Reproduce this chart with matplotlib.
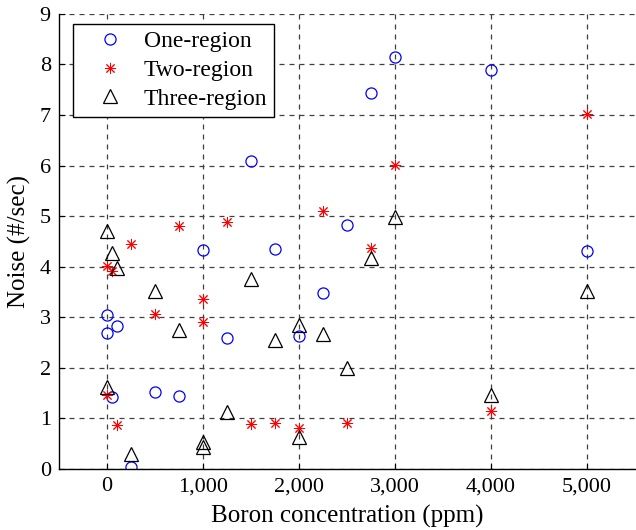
import matplotlib.pyplot as plt
from matplotlib.ticker import FuncFormatter

# One-region (blue circles)
one_x = [0, 0, 50, 100, 250, 500, 750, 1000, 1250, 1500, 1750, 2000, 2250, 2500, 2750, 3000, 4000, 5000]
one_y = [3.04, 2.69, 1.42, 2.82, 0.05, 1.53, 1.45, 4.33, 2.59, 6.09, 4.35, 2.64, 3.49, 4.83, 7.44, 8.15, 7.89, 4.32]

# Two-region (red asterisks)
two_x = [0, 0, 50, 100, 250, 500, 750, 1000, 1000, 1250, 1500, 1750, 2000, 2250, 2500, 2750, 3000, 4000, 5000]
two_y = [4.02, 1.47, 3.91, 0.87, 4.44, 3.06, 4.80, 3.36, 2.91, 4.89, 0.90, 0.92, 0.82, 5.10, 0.92, 4.36, 6.02, 1.15, 7.02]

# Three-region (black triangles)
three_x = [0, 0, 50, 100, 250, 500, 750, 1000, 1000, 1250, 1500, 1750, 2000, 2000, 2250, 2500, 2750, 3000, 4000, 5000]
three_y = [4.71, 1.63, 4.28, 3.97, 0.30, 3.52, 2.74, 0.53, 0.44, 1.12, 3.75, 2.55, 2.84, 0.63, 2.67, 1.99, 4.18, 4.98, 1.47, 3.52]

x_ticks = [0, 1000, 2000, 3000, 4000, 5000]
y_ticks = list(range(0, 10))

plt.rcParams['font.family'] = ['Liberation Serif', 'DejaVu Serif']

fig = plt.figure(figsize=(6.36, 5.3), dpi=100)
ax = fig.add_axes([0.093, 0.115, 0.905, 0.859])

ax.plot(one_x, one_y, linestyle='none', marker='o', markersize=8,
        markerfacecolor='none', markeredgecolor='#0000ff', markeredgewidth=0.9,
        label='One-region')
ax.plot(two_x, two_y, linestyle='none', marker=(8, 2, 0), markersize=8,
        color='#ff0000', markeredgewidth=0.7, label='Two-region')
ax.plot(three_x, three_y, linestyle='none', marker='^', markersize=10,
        markerfacecolor='none', markeredgecolor='k', markeredgewidth=0.9,
        label='Three-region')

ax.set_xlim(-500, 5500)
ax.set_ylim(0, 9)
ax.set_xticks(x_ticks)
ax.set_yticks(y_ticks)
ax.xaxis.set_major_formatter(FuncFormatter(lambda v, p: f'{int(v):,}'))
ax.tick_params(direction='in', length=4, labelsize=16, width=0.8, pad=6)

ax.spines['top'].set_visible(False)
ax.spines['right'].set_visible(False)
ax.spines['left'].set_linewidth(1.0)
ax.spines['bottom'].set_linewidth(1.0)

ax.grid(True, color='0.25', linestyle=(0, (4, 4)), linewidth=0.9)
ax.set_axisbelow(True)

ax.set_xlabel('Boron concentration (ppm)', fontsize=18, labelpad=6)
ax.set_ylabel('Noise (#/sec)', fontsize=18, labelpad=6)

leg = ax.legend(loc='upper left', bbox_to_anchor=(0.024, 0.978), borderaxespad=0,
                fontsize=17, fancybox=False, framealpha=1, edgecolor='k',
                handletextpad=0.2, borderpad=0.3, labelspacing=0.3, handlelength=2.5)
leg.get_frame().set_linewidth(1.0)

fig.savefig('out.png', dpi=100)
